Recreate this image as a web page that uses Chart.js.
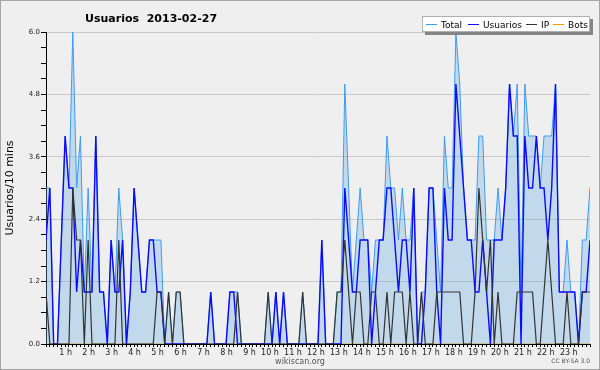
<!DOCTYPE html>
<html lang="es">
<head>
<meta charset="UTF-8">
<title>Usuarios 2013-02-27</title>
<script src="https://cdn.jsdelivr.net/npm/chart.js"></script>
<style>
  html, body { margin: 0; padding: 0; background: #efefef; }
  #wrap { width: 600px; height: 370px; }
</style>
</head>
<body>
<div id="wrap"><canvas id="chart" width="600" height="370"></canvas></div>
<script>
// one value every 10 minutes
const total = [
  3,3,0,0,2,4,3,6,3,4, 1,3,1,4,1,1,0,2,1,3, 2,0,1,3,2,1,1,2,2,2,
  2,0,1,0,1,1,0,0,0,0, 0,0,0,1,0,0,0,0,1,1, 1,0,0,0,0,0,0,0,1,0,
  1,0,1,0,0,0,0,1,0,0, 0,0,2,0,0,0,1,1,5,3, 1,2,3,2,2,1,2,2,2,4,
  3,3,2,3,2,2,3,0,1,1, 3,3,2,1,4,3,3,6,5,3, 2,2,2,4,4,2,2,2,3,2,
  3,5,4,5,1,5,4,4,4,3, 4,4,4,5,1,1,2,1,1,0, 2,2,3
];
const usuarios = [
  2,3,0,0,2,4,3,3,1,2, 1,1,1,4,1,1,0,2,1,1, 2,0,1,3,2,1,1,2,2,1,
  1,0,0,0,0,0,0,0,0,0, 0,0,0,1,0,0,0,0,1,1, 0,0,0,0,0,0,0,0,0,0,
  1,0,1,0,0,0,0,0,0,0, 0,0,2,0,0,0,0,0,3,2, 1,1,2,2,2,0,1,2,2,3,
  3,2,1,2,2,1,3,0,0,1, 3,3,1,0,3,2,2,5,4,3, 2,2,1,1,2,1,0,2,2,2,
  3,5,4,4,0,4,3,3,4,3, 3,2,3,5,1,1,1,1,1,0, 1,1,2
];
const ip = [
  1,0,0,0,0,0,0,3,2,2, 0,2,0,0,0,0,0,0,0,2, 0,0,0,0,0,0,0,0,0,1,
  1,0,1,0,1,1,0,0,0,0, 0,0,0,0,0,0,0,0,0,0, 1,0,0,0,0,0,0,0,1,0,
  0,0,0,0,0,0,0,1,0,0, 0,0,0,0,0,0,1,1,2,1, 0,1,1,0,0,1,1,0,0,1,
  0,1,1,1,0,1,0,0,1,0, 0,0,1,1,1,1,1,1,1,0, 0,0,1,3,2,1,2,0,1,0,
  0,0,0,1,1,1,1,1,0,0, 1,2,1,0,0,0,1,0,0,0, 1,1,1
];
const bots = [
  0,0,0,0,0,0,0,0,0,0, 0,0,0,0,0,0,0,0,0,0, 0,0,0,0,0,0,0,0,0,0,
  0,0,0,0,0,0,0,0,0,0, 0,0,0,0,0,0,0,0,0,0, 0,0,0,0,0,0,0,0,0,0,
  0,0,0,0,0,0,0,0,0,0, 0,0,0,0,0,0,0,0,0,0, 0,0,0,0,0,0,0,0,0,0,
  0,0,0,0,0,0,0,0,0,0, 0,0,0,0,0,0,0,0,0,0, 0,0,0,0,0,0,0,0,0,0,
  0,0,0,0,0,0,0,0,0,0, 0,0,0,0,0,0,0,0,0,0, 0,0,0
];
const hourLabels = ['1 h','2 h','3 h','4 h','5 h','6 h','7 h','8 h','9 h','10 h','11 h','12 h',
                    '13 h','14 h','15 h','16 h','17 h','18 h','19 h','20 h','21 h','22 h','23 h'];
const seriesNames = ['Total', 'Usuarios', 'IP', 'Bots'];
const seriesColors = ['#3d9cf2', '#0a0aff', '#333333', '#ff9900'];

const toPoints = arr => arr.map((v, i) => ({ x: i, y: v }));

// background, frame, title, axis title, legend and footer
const decor = {
  id: 'decor',
  beforeDraw(chart) {
    const c = chart.ctx;
    c.save();
    c.fillStyle = '#efefef';
    c.fillRect(0, 0, chart.width, chart.height);
    c.restore();
  },
  afterDraw(chart) {
    const c = chart.ctx;
    c.save();
    // frame
    c.strokeStyle = '#a6a6a6';
    c.lineWidth = 1;
    c.strokeRect(0.5, 0.5, chart.width - 1, chart.height - 1);

    // title
    c.fillStyle = '#000';
    c.font = 'bold 11px "DejaVu Sans"';
    c.textBaseline = 'alphabetic';
    c.textAlign = 'left';
    c.fillText('Usuarios  2013-02-27', 85, 22);

    // y axis title
    c.save();
    c.translate(13, 188);
    c.rotate(-Math.PI / 2);
    c.textAlign = 'center';
    c.font = '11px "DejaVu Sans"';
    c.fillText('Usuarios/10 mins', 0, 0);
    c.restore();

    // legend box with shadow
    c.fillStyle = '#858585';
    c.fillRect(425, 19, 168, 16);
    c.fillStyle = '#ffffff';
    c.fillRect(422, 16, 168, 16);
    c.strokeStyle = '#b0b0b0';
    c.strokeRect(422.5, 16.5, 167, 15);
    const swatchX = [426, 468, 526, 553];
    c.font = '9px "DejaVu Sans"';
    c.textAlign = 'left';
    seriesNames.forEach((name, k) => {
      c.strokeStyle = seriesColors[k];
      c.lineWidth = 1;
      c.beginPath();
      c.moveTo(swatchX[k], 24.5);
      c.lineTo(swatchX[k] + 11, 24.5);
      c.stroke();
      c.fillStyle = '#000';
      c.fillText(name, swatchX[k] + 15, 28);
    });

    // footer
    c.fillStyle = '#555';
    c.font = '8px "DejaVu Sans"';
    c.textAlign = 'center';
    c.fillText('wikiscan.org', 300, 364);
    c.font = '6px "DejaVu Sans"';
    c.textAlign = 'right';
    c.fillText('CC BY-SA 3.0', 590, 363);
    c.restore();
  }
};

const isMajor = v => Math.abs(v / 1.2 - Math.round(v / 1.2)) < 1e-6;

new Chart(document.getElementById('chart'), {
  type: 'line',
  data: {
    datasets: [
      { label: 'Total', data: toPoints(total), borderColor: seriesColors[0], borderWidth: 1,
        backgroundColor: 'rgba(100,170,230,0.32)', fill: 'origin', order: 3 },
      { label: 'Usuarios', data: toPoints(usuarios), borderColor: seriesColors[1], borderWidth: 1.4,
        fill: false, order: 2 },
      { label: 'IP', data: toPoints(ip), borderColor: seriesColors[2], borderWidth: 1.2,
        fill: false, order: 1 },
      { label: 'Bots', data: toPoints(bots), borderColor: seriesColors[3], borderWidth: 1,
        fill: false, order: 4 }
    ]
  },
  options: {
    responsive: false,
    animation: false,
    devicePixelRatio: 1,
    layout: { padding: { left: 0, right: 10, top: 32, bottom: 0 } },
    elements: { point: { radius: 0 }, line: { tension: 0 } },
    plugins: { legend: { display: false }, tooltip: { enabled: false }, title: { display: false } },
    scales: {
      x: {
        type: 'linear', min: 0, max: 142, z: 1,
        afterFit(scale) { scale.height = 26; },
        border: { color: '#000', width: 1 },
        grid: { drawOnChartArea: false, drawTicks: true, tickLength: 3, tickColor: '#000' },
        ticks: {
          stepSize: 1, autoSkip: false, maxTicksLimit: 1000, maxRotation: 0,
          align: 'end', labelOffset: 3, padding: 1, color: '#222',
          font: { family: 'DejaVu Sans', size: 8 },
          callback: v => (v % 6 === 0 && v > 0) ? hourLabels[v / 6 - 1] : ''
        }
      },
      y: {
        min: 0, max: 6,
        afterFit(scale) { scale.width = 46; },
        border: { color: '#000', width: 1 },
        grid: {
          color: ctx => (ctx.tick && isMajor(ctx.tick.value) && ctx.tick.value > 0) ? '#c8c8c8' : 'rgba(0,0,0,0)',
          tickColor: '#000', tickLength: 5, drawTicks: true
        },
        ticks: {
          stepSize: 0.3, autoSkip: false, maxTicksLimit: 100, padding: 1, color: '#222',
          font: { family: 'DejaVu Sans', size: 7 },
          callback: v => isMajor(v) ? v.toFixed(1) : ''
        }
      }
    }
  },
  plugins: [decor]
});
</script>
</body>
</html>
